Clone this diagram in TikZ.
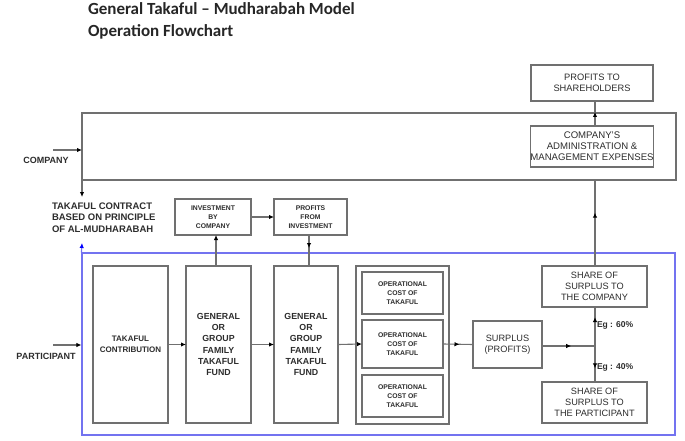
\documentclass[tikz,border=0pt]{standalone}
\usepackage{fontspec}
\setmainfont{Liberation Sans}
\newfontfamily\titlefont{Carlito}
\usetikzlibrary{arrows.meta,decorations.markings,calc}
\definecolor{boxgray}{RGB}{112,112,112}
\definecolor{txt}{RGB}{45,45,45}
\definecolor{bluef}{RGB}{115,115,240}
\newcommand\myfs[2]{\fontsize{#1}{#2}\selectfont}
\begin{document}
\begin{tikzpicture}[x=1pt,y=-1pt,
 box/.style={draw=boxgray, line width=1.1pt, inner sep=0pt, outer sep=0pt, align=center, text=txt},
 lbl/.style={inner sep=0pt, outer sep=0pt, text=txt},
 ln/.style={draw=boxgray, line width=1.1pt},
 arr/.style={ln, -{Latex[length=5pt,width=4.5pt,black]}},
 midarr/.style={ln, postaction={decorate}, decoration={markings, mark=at position #1 with {\arrow{Latex[length=5pt,width=4.5pt,black]}}}},
 ]
\useasboundingbox (0,0) rectangle (685,441);
\fill[white] (0,0) rectangle (685,441);

% title
\node[lbl, anchor=base west, text=black!85, font=\titlefont\bfseries\myfs{17}{22}] (title1) at (88,15) {General Takaful – Mudharabah Model};
\node[lbl, anchor=base west, text=black!85, font=\titlefont\bfseries\myfs{17}{22}] (title2) at (88,37) {Operation Flowchart};

% company part
\node[box, minimum width=594pt, minimum height=67pt] (company) at (379,146.5) {};
\node[box, minimum width=122pt, minimum height=36pt, font=\myfs{9.3}{11.5}] (prof) at (592,83) {PROFITS TO\\SHAREHOLDERS};
\node[box, minimum width=122pt, minimum height=41pt, font=\myfs{9.6}{11}] (admin) at (592,146.5) {COMPANY'S\\ADMINISTRATION \&\\MANAGEMENT EXPENSES};

\node[lbl, font=\bfseries\myfs{9}{11}] (complbl) at (46,160) {COMPANY};
\coordinate (cin) at (53,150);
\draw[arr] (cin) -- (cin -| company.west);
\coordinate (cdown) at (82,197);
\draw[arr] (company.south west) -- (cdown);

\node[lbl, anchor=north west, align=left, font=\bfseries\myfs{9.5}{11.3}] (contract) at (52,203) {TAKAFUL CONTRACT\\BASED ON PRINCIPLE\\OF AL-MUDHARABAH};

\node[box, minimum width=76pt, minimum height=36pt, font=\bfseries\myfs{6.8}{9.3}] (inv) at (213,217) {INVESTMENT\\BY\\COMPANY};
\node[box, minimum width=73pt, minimum height=36pt, font=\bfseries\myfs{6.8}{9.3}] (pfi) at (310.5,217) {PROFITS\\FROM\\INVESTMENT};
\draw[arr] (inv.east) -- (pfi.west);

% participant part
\node[draw=bluef, line width=1.1pt, inner sep=0pt, minimum width=593pt, minimum height=182pt] (blue) at (378.5,344) {};
\coordinate (bup) at (82,243);
\draw[draw=bluef, line width=1.1pt, -{Latex[length=5pt,width=4.5pt,blue]}] (blue.north west) -- (bup);

\node[lbl, font=\bfseries\myfs{9}{11}] (partlbl) at (46,356) {PARTICIPANT};
\coordinate (pin) at (53,345);
\draw[arr] (pin) -- (pin -| blue.west);

\node[box, minimum width=75pt, minimum height=157pt, font=\bfseries\myfs{8}{11}] (contrib) at (130.5,344.5) {TAKAFUL\\CONTRIBUTION};
\node[box, minimum width=65pt, minimum height=157pt, font=\bfseries\myfs{8.8}{11.3}] (fund1) at (218.5,344.5) {GENERAL\\OR\\GROUP\\FAMILY\\TAKAFUL\\FUND};
\node[box, minimum width=64pt, minimum height=157pt, font=\bfseries\myfs{8.8}{11.3}] (fund2) at (306,344.5) {GENERAL\\OR\\GROUP\\FAMILY\\TAKAFUL\\FUND};
\node[box, minimum width=93pt, minimum height=158pt] (ops) at (402.5,345) {};
\node[box, minimum width=81pt, minimum height=42pt, font=\bfseries\myfs{6.8}{9}] (op1) at (402.5,293) {OPERATIONAL\\COST OF\\TAKAFUL};
\node[box, minimum width=81pt, minimum height=48pt, font=\bfseries\myfs{6.8}{9}] (op2) at (402.5,344) {OPERATIONAL\\COST OF\\TAKAFUL};
\node[box, minimum width=81pt, minimum height=42pt, font=\bfseries\myfs{6.8}{9}] (op3) at (402.5,396) {OPERATIONAL\\COST OF\\TAKAFUL};
\node[box, minimum width=69pt, minimum height=47pt, font=\myfs{9.2}{11.5}] (surplus) at (507.5,344.5) {SURPLUS\\(PROFITS)};
\node[box, minimum width=105pt, minimum height=41pt, font=\myfs{9.2}{11.3}] (sharec) at (594.5,286.5) {SHARE OF\\SURPLUS TO\\THE COMPANY};
\node[box, minimum width=105pt, minimum height=41pt, font=\myfs{9.2}{11.3}] (sharep) at (594.5,402.5) {SHARE OF\\SURPLUS TO\\THE PARTICIPANT};

\draw[arr] (contrib.east) -- (fund1.west);
\draw[arr] (fund1.east) -- (fund2.west);
\draw[arr] (fund2.east) -- (op2.west);
\draw[midarr=0.55] (op2.east) -- (surplus.west);
\coordinate (j) at (595,346);
\draw[midarr=0.55] (surplus.east |- j) -- (j);
\draw[midarr=0.74] (j) -- (j |- sharec.south);
\draw[midarr=0.62] (j) -- (j |- sharep.north);
\node[lbl, anchor=west, font=\bfseries\myfs{8.5}{10}] (eg60) at (597,325) {Eg : 60\%};
\node[lbl, anchor=west, font=\bfseries\myfs{8.5}{10}] (eg40) at (597,367) {Eg : 40\%};

\draw[midarr=0.62] (j |- sharec.north) -- (j |- company.south);
\draw[midarr=0.56] (j |- admin.north) -- (j |- prof.south);

\draw[arr] ([xshift=-2.5pt]fund1.north) -- ([xshift=-2.5pt]fund1.north |- inv.south);
\draw[midarr=0.42] ([xshift=-1.5pt]pfi.south) -- ([xshift=-1.5pt]pfi.south |- fund2.north);
\end{tikzpicture}
\end{document}
